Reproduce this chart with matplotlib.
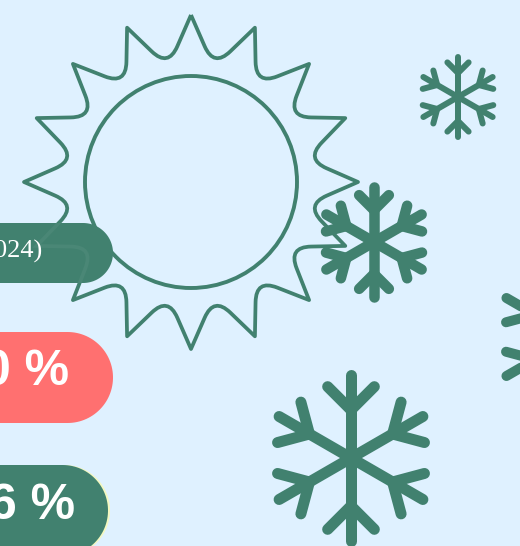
import numpy as np
import matplotlib
matplotlib.use('Agg')
import matplotlib.pyplot as plt
from matplotlib.patches import Circle, PathPatch
from matplotlib.path import Path

bg_color = '#DFF1FF'
green = '#41816F'
faint_green = '#4A8776'
red = '#FF7070'

# sun
sun_center = (191, 182)
sun_disc_radius = 106
sun_tip_radius = 167
sun_valley_radius = 117
sun_rays = 16

# snowflakes: centre x, centre y, arm length, branch start, branch length, line width (px)
flake_x = [351, 374, 458, 574]
flake_y = [458, 242, 97, 337]
flake_arm = [83, 55, 40, 78]
flake_start = [48, 32, 24, 45]
flake_branch = [33, 21, 15, 30]
flake_width = [11, 10.5, 6, 10]

# pills
pill_top = [223, 332, 465]
pill_height = [60, 91, 91]
pill_right = [113, 113, 108]
pill_color = [green, red, green]
pill_text = ['(2024)', '0 %', '6 %']
pill_text_right = [43, 69.5, 75.5]
pill_text_y = [251, 372, 506]


def sun_path():
    verts = []
    codes = []
    for i in range(sun_rays):
        a = -np.pi / 2 + i * 2 * np.pi / sun_rays
        b = a + np.pi / sun_rays
        c = a + 2 * np.pi / sun_rays
        tip = np.array([np.cos(a), np.sin(a)]) * sun_tip_radius + sun_center
        valley = np.array([np.cos(b), np.sin(b)]) * sun_valley_radius + sun_center
        tip2 = np.array([np.cos(c), np.sin(c)]) * sun_tip_radius + sun_center
        v1 = valley + (tip - valley) * 0.4
        v2 = valley + (tip2 - valley) * 0.4
        if i == 0:
            verts.append(tip)
            codes.append(Path.MOVETO)
        verts += [v1, valley, v2, tip2]
        codes += [Path.LINETO, Path.CURVE3, Path.CURVE3, Path.LINETO]
    return Path(verts, codes)


def pill_path(top, h, right):
    # flat on the left (off the canvas), half circle on the right
    r = h / 2
    t = np.linspace(-np.pi / 2, np.pi / 2, 60)
    xs = right - r + r * np.cos(t)
    ys = top + r + r * np.sin(t)
    verts = [(-100, top)] + list(zip(xs, ys)) + [(-100, top + h), (-100, top)]
    return Path(verts, closed=True)


def draw_flake(ax, x, y, arm, start, branch, width):
    for i in range(6):
        a = -np.pi / 2 + i * np.pi / 3
        d = np.array([np.cos(a), np.sin(a)])
        p0 = np.array([x, y])
        p1 = p0 + d * arm
        j = p0 + d * start
        ax.plot([p0[0], p1[0]], [p0[1], p1[1]], color=green, lw=width * 0.72,
                solid_capstyle='round', zorder=5)
        for s in (-1, 1):
            e = a + s * np.pi / 4
            t = j + np.array([np.cos(e), np.sin(e)]) * branch
            ax.plot([j[0], t[0]], [j[1], t[1]], color=green, lw=width * 0.72,
                    solid_capstyle='round', zorder=5)


fig = plt.figure(figsize=(5.2, 5.46), dpi=100, facecolor=bg_color)
ax = fig.add_axes([0, 0, 1, 1])
ax.set_xlim(0, 520)
ax.set_ylim(546, 0)
ax.axis('off')

# sun outline and disc
ax.add_patch(PathPatch(sun_path(), fill=False, edgecolor=green, lw=2.7, joinstyle='round', zorder=2))
ax.add_patch(Circle(sun_center, sun_disc_radius, fill=False, edgecolor=green, lw=2.8, zorder=2))

# pills
ax.add_patch(PathPatch(pill_path(pill_top[2], pill_height[2], pill_right[2] + 2), fc='#F4F8C0', ec='none', zorder=3))
first_pill = None
for top, h, right, col in zip(pill_top, pill_height, pill_right, pill_color):
    p = PathPatch(pill_path(top, h, right), fc=col, ec='none', zorder=3)
    ax.add_patch(p)
    if first_pill is None:
        first_pill = p

# faint sun showing through the first pill
faint = PathPatch(sun_path(), fill=False, edgecolor=faint_green, lw=2.7, zorder=4)
ax.add_patch(faint)
faint.set_clip_path(first_pill)

# pill labels
ax.text(pill_text_right[0], pill_text_y[0], pill_text[0], color='white', ha='right', va='center',
        fontsize=19, family='Liberation Serif', zorder=6)
for i in (1, 2):
    ax.text(pill_text_right[i], pill_text_y[i], pill_text[i], color='white', ha='right', va='center',
            fontsize=36, fontweight='bold', family='Liberation Sans', zorder=6)

for x, y, arm, start, branch, width in zip(flake_x, flake_y, flake_arm, flake_start, flake_branch, flake_width):
    draw_flake(ax, x, y, arm, start, branch, width)

fig.savefig('out.png', dpi=100, facecolor=bg_color)
